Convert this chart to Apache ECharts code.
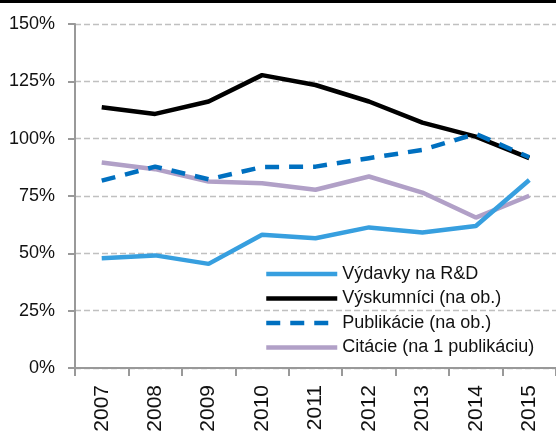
<!DOCTYPE html>
<html lang="sk">
<head>
    <meta charset="UTF-8">
    <title>Index</title>
    <script src="https://cdn.jsdelivr.net/npm/echarts@6/dist/echarts.min.js"></script>
</head>
<style>
html,body{margin:0;padding:0;background-color:#fff}
#chartBox{width:556px;height:435px}
</style>
<body>
    <div id="chartBox"></div>
</body>
<script>
// data
const years = ['2007', '2008', '2009', '2010', '2011', '2012', '2013', '2014', '2015'];
const vydavky = [47.9, 49.1, 45.4, 58.1, 56.6, 61.3, 59.1, 61.9, 82.0];
const vyskumnici = [113.7, 110.8, 116.2, 127.7, 123.4, 116.2, 107.0, 100.9, 91.5];
const publikacie = [81.7, 87.8, 82.3, 87.6, 87.8, 91.5, 95.1, 102.1, 91.9];
const citacie = [89.6, 86.7, 81.3, 80.6, 77.7, 83.5, 76.5, 65.6, 75.1];
const yTicks = [0, 25, 50, 75, 100, 125, 150];

const axisGray = '#999999';
const labelFont = 'Arial, "Liberation Sans", sans-serif';

function lineSeries(name, data, color, type, z) {
    return {
        type: 'line',
        name: name,
        data: data,
        symbol: 'none',
        z: z,
        lineStyle: {color: color, width: 4.5, type: type},
        itemStyle: {color: color}
    };
}

let chartObj = echarts.init(document.getElementById('chartBox'));
chartObj.setOption({
    animation: false,
    grid: {left: 75, right: 0, top: 24, bottom: 67},
    xAxis: {
        type: 'category',
        data: years,
        boundaryGap: true,
        axisLine: {lineStyle: {color: axisGray, width: 2}},
        axisTick: {show: true, length: 8, lineStyle: {color: axisGray, width: 2}},
        axisLabel: {rotate: 90, margin: 17, fontSize: 21, color: '#111', fontFamily: labelFont}
    },
    yAxis: {
        type: 'value',
        min: yTicks[0],
        max: yTicks[yTicks.length - 1],
        interval: 25,
        axisLine: {show: true, lineStyle: {color: axisGray, width: 2}},
        axisTick: {show: true, length: 7, lineStyle: {color: axisGray, width: 2}},
        axisLabel: {margin: 20, fontSize: 18, color: '#111', fontFamily: labelFont,
            formatter: v => v + '%'},
        splitLine: {lineStyle: {color: '#c0c0c0', width: 1.3, type: [6, 3]}}
    },
    legend: {
        orient: 'vertical',
        left: 259,
        top: 260,
        itemWidth: 71,
        itemHeight: 20,
        itemGap: 6.5,
        itemStyle: {opacity: 0},
        lineStyle: {width: 4.5},
        textStyle: {fontSize: 18, color: '#111', fontFamily: labelFont},
        data: ['Výdavky na R&D', 'Výskumníci (na ob.)', 'Publikácie (na ob.)', 'Citácie (na 1 publikáciu)']
    },
    series: [
        lineSeries('Výdavky na R&D', vydavky, '#379FDF', 'solid', 5),
        lineSeries('Výskumníci (na ob.)', vyskumnici, '#000000', 'solid', 3),
        lineSeries('Publikácie (na ob.)', publikacie, '#0070C0', [14, 10], 4),
        lineSeries('Citácie (na 1 publikáciu)', citacie, '#B1A0C7', 'solid', 2)
    ],
    graphic: [
        {type: 'rect', left: 0, top: 0, shape: {width: 556, height: 3}, style: {fill: '#000'}}
    ]
});
</script>
</html>
